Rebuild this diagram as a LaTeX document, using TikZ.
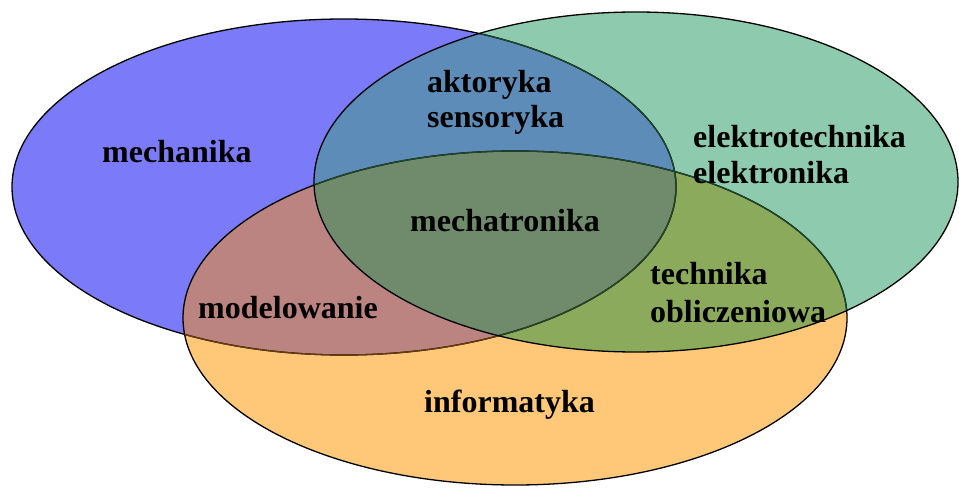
\documentclass[tikz,border=0pt]{standalone}
\usepackage{fontspec}
\setmainfont{Liberation Serif}
\newcommand\blueE{(344,301) ellipse [x radius=332, y radius=168]}
\newcommand\greenE{(636,306) ellipse [x radius=322, y radius=170]}
\newcommand\orangeE{(515,170) ellipse [x radius=332, y radius=167]}
\definecolor{cB}{RGB}{123,123,250}
\definecolor{cG}{RGB}{142,203,174}
\definecolor{cO}{RGB}{255,200,120}
\definecolor{cBG}{RGB}{94,140,184}
\definecolor{cBO}{RGB}{188,132,128}
\definecolor{cGO}{RGB}{140,170,92}
\definecolor{cBGO}{RGB}{112,138,108}
\definecolor{lnG}{RGB}{30,70,45}
\definecolor{lnO}{RGB}{105,60,15}
\tikzset{
  lbl/.style={anchor=base west, inner sep=0pt, font=\fontsize{32}{36}\selectfont\bfseries, text=black},
  edge/.style={line width=1.3pt}
}
\begin{document}
\begin{tikzpicture}[x=1pt,y=1pt]
\useasboundingbox (0,0) rectangle (959,488);
% base fills
\fill[cB] \blueE;
\fill[cO] \orangeE;
\fill[cG] \greenE;
% pairwise and triple overlaps
\begin{scope}
  \clip \orangeE;
  \fill[cGO] \greenE;
\end{scope}
\begin{scope}
  \clip \blueE;
  \fill[cBO] \orangeE;
  \fill[cBG] \greenE;
  \clip \orangeE;
  \fill[cBGO] \greenE;
\end{scope}
% outlines
\draw[edge, black] \blueE;
\draw[edge, black] \orangeE;
\begin{scope}
  \clip \orangeE;
  \draw[edge, lnO] \blueE;
\end{scope}
\begin{scope}
  \clip \greenE;
  \draw[edge, lnG] \blueE;
  \draw[edge, lnG] \orangeE;
\end{scope}
\draw[edge, black] \greenE;
% labels
\node[lbl] (mech) at (102,325) {mechanika};
\node[lbl] (akt) at (427,395) {aktoryka};
\node[lbl] (sens) at (427,360) {sensoryka};
\node[lbl] (elt) at (693,340) {elektrotechnika};
\node[lbl] (eln) at (693,304) {elektronika};
\node[lbl] (mtr) at (410,256) {mechatronika};
\node[lbl] (mod) at (198,170) {modelowanie};
\node[lbl] (tech) at (650,203) {technika};
\node[lbl] (obl) at (650,166) {obliczeniowa};
\node[lbl] (inf) at (424,76) {informatyka};
\end{tikzpicture}
\end{document}
